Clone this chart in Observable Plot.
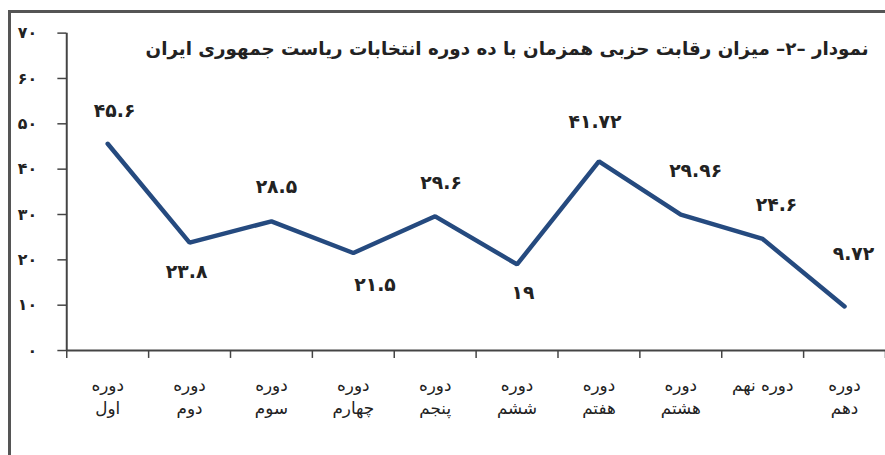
<!DOCTYPE html>
<html><head><meta charset="utf-8">
<script src="https://cdn.jsdelivr.net/npm/d3@7"></script>
<script src="https://cdn.jsdelivr.net/npm/@observablehq/plot@0.6"></script>
<style>
html,body{margin:0;padding:0;background:#fff;overflow:hidden;width:885px;height:455px;}
#wrap{position:relative;width:885px;height:455px;}
#frame{position:absolute;left:8px;top:10px;width:900px;height:460px;border-left:3px solid #555;border-top:3px solid #555;box-sizing:border-box;}
#chart{position:absolute;left:0;top:0;}
</style></head>
<body><div id="wrap"><div id="frame"></div><div id="chart"></div></div>
<script>
const title = "نمودار –۲– میزان رقابت حزبی همزمان با ده دوره انتخابات ریاست جمهوری ایران";
const categories = ["دوره اول","دوره دوم","دوره سوم","دوره چهارم","دوره پنجم","دوره ششم","دوره هفتم","دوره هشتم","دوره نهم","دوره دهم"];
const xTickLabels = ["دوره\nاول","دوره\nدوم","دوره\nسوم","دوره\nچهارم","دوره\nپنجم","دوره\nششم","دوره\nهفتم","دوره\nهشتم","دوره نهم","دوره\nدهم"];
const values = [45.6, 23.8, 28.5, 21.5, 29.6, 19, 41.72, 29.96, 24.6, 9.72];
const yTicks = [0, 10, 20, 30, 40, 50, 60, 70];

const fa = s => String(s).replace(/\d/g, d => "۰۱۲۳۴۵۶۷۸۹"[d]);
const data = categories.map((c, i) => ({i, c, v: values[i]}));
// label placement offsets (pixels) for each point's value label
const labelOffsets = [[7,-33],[-3,30],[5,-35],[22,32],[6,-34],[6,29],[-4,-40],[15,-44],[14,-34],[9,-53]];
const lineColor = "#254a7f";

const labelMarks = data.map((d, k) => Plot.text([d], {
  x: d => d.i + 0.5, y: "v", text: d => fa(d.v),
  dx: labelOffsets[k][0], dy: labelOffsets[k][1],
  fontSize: 19, fontWeight: "bold", fill: "#222"
}));

const chart = Plot.plot({
  width: 895, height: 455,
  marginLeft: 67, marginRight: 0, marginTop: 33, marginBottom: 101,
  style: {fontFamily: "DejaVu Sans", background: "transparent", color: "#222"},
  x: {type: "linear", domain: [0, 10], axis: null},
  y: {domain: [0, 70], axis: null},
  marks: [
    Plot.ruleX([0], {stroke: "#444", strokeWidth: 2}),
    Plot.ruleY([0], {stroke: "#444", strokeWidth: 2}),
    Plot.axisY({ticks: yTicks, tickFormat: fa, tickSize: 9, tickPadding: 21, fontSize: 16, fontWeight: "bold", stroke: "#444", strokeWidth: 1.5, label: null}),
    Plot.axisX({ticks: d3.range(11), tickFormat: () => "", tickSize: 8, stroke: "#444", strokeWidth: 1.5, label: null}),
    Plot.axisX({ticks: d3.range(10).map(i => i + 0.5), tickFormat: d => xTickLabels[Math.floor(d)], tickSize: 0, tickPadding: 24, fontSize: 17, lineHeight: 1.4, label: null}),
    Plot.line(data, {x: d => d.i + 0.5, y: "v", stroke: lineColor, strokeWidth: 4.5, strokeLinejoin: "miter"}),
    ...labelMarks,
    Plot.text([title], {frameAnchor: "top-right", dx: -17, dy: 9, fontSize: 18.5, fontWeight: "bold", textAnchor: "end", fill: "#222"})
  ]
});
document.getElementById("chart").appendChild(chart);
</script>
</body></html>
